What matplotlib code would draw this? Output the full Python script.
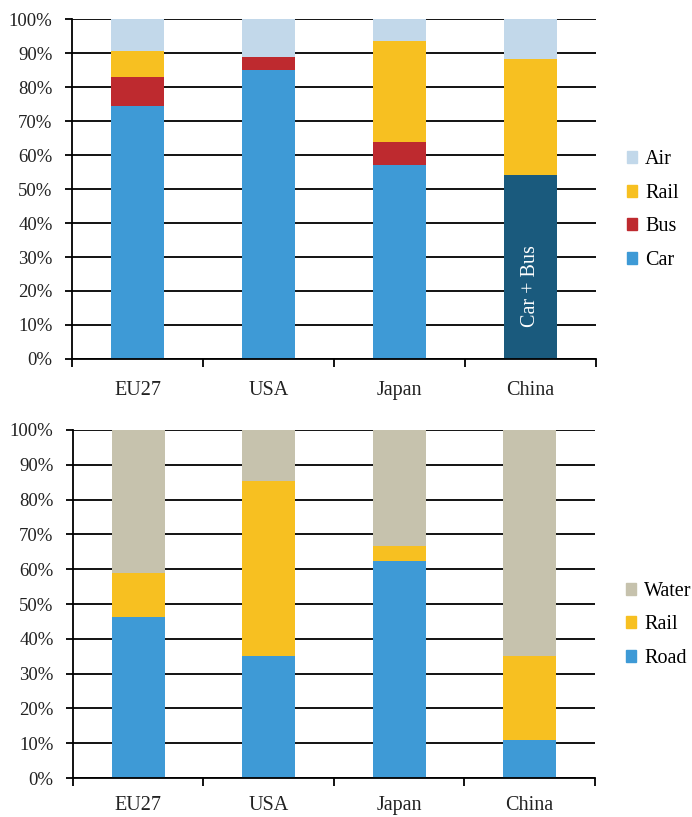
import numpy as np
import matplotlib.pyplot as plt
from matplotlib.patches import Patch

plt.rcParams['font.family'] = ['Liberation Serif', 'DejaVu Serif']

countries = ["EU27", "USA", "Japan", "China"]

# passenger transport modal split (%)
car = [74.4, 85.1, 57.1, 0.0]
bus = [8.5, 3.7, 6.8, 0.0]
car_bus = [0.0, 0.0, 0.0, 54.0]
rail_p = [7.7, 0.0, 29.7, 34.1]
air = [9.4, 11.2, 6.4, 11.9]

# freight transport modal split (%)
road = [46.3, 35.1, 62.3, 10.9]
rail_f = [12.5, 50.1, 4.3, 24.2]
water = [41.2, 14.8, 33.4, 64.9]

c_car = "#3e9ad6"
c_bus = "#be2a2f"
c_carbus = "#1a5a7d"
c_rail = "#f7c021"
c_air = "#c2d8ea"
c_water = "#c6c2ad"

fs = 13.5
fs_cat = 14.5


def style_axes(ax, pad=16):
    x = np.arange(len(countries))
    ax.set_xlim(-0.5, len(countries) - 0.5)
    ax.set_ylim(0, 100)
    ax.set_yticks(np.arange(0, 101, 10))
    ax.set_yticklabels([f"{v}%" for v in range(0, 101, 10)])
    ax.set_xticks(np.arange(-0.5, len(countries), 1.0))
    ax.set_xticklabels([])
    ax.set_xticks(x, minor=True)
    ax.set_xticklabels(countries, minor=True)
    ax.tick_params(axis="x", which="minor", length=0, pad=pad, labelsize=fs_cat,
                   labelcolor="#222222")
    ax.tick_params(axis="x", which="major", length=6, width=1.3, direction="out")
    ax.tick_params(axis="y", length=5, width=1.3, direction="out", labelsize=fs,
                   labelcolor="#222222", pad=9)
    ax.grid(axis="y", color="black", linewidth=1.3)
    ax.set_axisbelow(True)
    for s in ["top", "right"]:
        ax.spines[s].set_visible(False)
    for s in ["left", "bottom"]:
        ax.spines[s].set_linewidth(1.3)


fig = plt.figure(figsize=(6.92, 8.17), dpi=100)
ax1 = fig.add_axes([0.104, 0.5606, 0.757, 0.4161])
ax2 = fig.add_axes([0.1055, 0.0477, 0.754, 0.426])

x = np.arange(len(countries))
w = 0.405

# top chart
b = np.zeros(len(countries))
ax1.bar(x, car, w, bottom=b, color=c_car)
b += car
ax1.bar(x, car_bus, w, bottom=b, color=c_carbus)
b += car_bus
ax1.bar(x, bus, w, bottom=b, color=c_bus)
b += bus
ax1.bar(x, rail_p, w, bottom=b, color=c_rail)
b += rail_p
ax1.bar(x, air, w, bottom=b, color=c_air)
ax1.text(x[3], 21.5, "Car + Bus", rotation=90, color="white",
         ha="center", va="center", fontsize=14.5)
style_axes(ax1)
h1 = [Patch(color=c_air), Patch(color=c_rail), Patch(color=c_bus), Patch(color=c_car)]
ax1.legend(h1, ["Air", "Rail", "Bus", "Car"], loc="center left",
           bbox_to_anchor=(1.059, 0.438), frameon=False, fontsize=fs_cat,
           handlelength=0.52, handleheight=0.52, handletextpad=0.4,
           labelspacing=0.72, borderpad=0, borderaxespad=0)

# bottom chart
b = np.zeros(len(countries))
ax2.bar(x, road, w, bottom=b, color=c_car)
b += road
ax2.bar(x, rail_f, w, bottom=b, color=c_rail)
b += rail_f
ax2.bar(x, water, w, bottom=b, color=c_water)
style_axes(ax2, pad=13)
h2 = [Patch(color=c_water), Patch(color=c_rail), Patch(color=c_car)]
ax2.legend(h2, ["Water", "Rail", "Road"], loc="center left",
           bbox_to_anchor=(1.059, 0.44), frameon=False, fontsize=fs_cat,
           handlelength=0.52, handleheight=0.52, handletextpad=0.4,
           labelspacing=0.72, borderpad=0, borderaxespad=0)

fig.savefig("out.png", dpi=100)
